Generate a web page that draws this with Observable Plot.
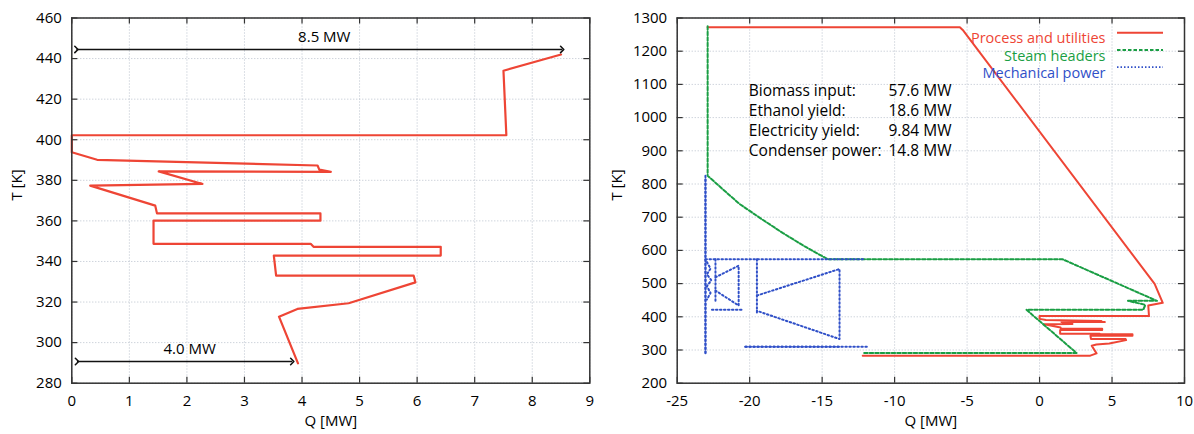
<!DOCTYPE html>
<html><head><meta charset="utf-8">
<script src="https://cdn.jsdelivr.net/npm/d3@7"></script>
<script src="https://cdn.jsdelivr.net/npm/@observablehq/plot@0.6"></script>
<style>
body{margin:0;background:#fff;}
#wrap{display:flex;width:1194px;height:434px;overflow:hidden;}
svg{font-family:"Open Sans",sans-serif;}
</style></head><body><div id="wrap"></div>
<script>
// ---------------- data ----------------
const leftQTicks = [0,1,2,3,4,5,6,7,8,9];
const leftTTicks = [280,300,320,340,360,380,400,420,440,460];
const rightQTicks = [-25,-20,-15,-10,-5,0,5,10];
const rightTTicks = [200,300,400,500,600,700,800,900,1000,1100,1200,1300];

// Process and utilities, low-temperature part (left panel; also part of right panel)
const processLowQ = [8.5,7.5,7.55,0,0,0.44,4.27,4.3,4.5,1.51,2.27,0.32,1.45,1.48,4.32,4.32,1.42,1.42,4.15,4.2,6.41,6.41,3.51,3.55,5.94,5.97,4.81,3.92,3.6,3.93];
const processLowT = [442,434,402.2,402.2,393.8,390.1,387.3,385.3,384.2,384.4,378.2,377.4,367.5,363.7,363.7,360.1,360.1,348.7,348.7,347.2,347.2,342.9,342.9,333,333,329.7,319.4,316.6,312.8,289.8];
// Process and utilities, high-temperature part and tail (right panel)
const processTopQ = [-22.9,-5.5,-5.3,7.94];
const processTopT = [1272,1272,1264,499];
const processTailQ = [3.5,-12.2];
const processTailT = [283,283];
// Steam headers
const steamQ = [-22.9,-22.9,-21.8,-20.7,-19.3,-17.7,-16.2,-14.6,1.6,8.1,6.1,7.3,7.15,-0.9,2.55,-12.2];
const steamT = [1275,825,782,740,698,652,612,573,573,448,448,436,421,421,291,291];
// Mechanical power (several dotted pieces, s = piece id)
const mechS = [0,0, 1,1, 2,2, 3,3,3,3,3,3,3, 4,4, 5,5,5,5, 6,6, 7,7, 8,8,8,8, 9,9, 10,10];
const mechQ = [-23.05,-23.05, -23.05,-12.15, -23.05,-23.05,
  -22.95,-22.7,-22.95,-22.65,-22.95,-22.7,-22.95,
  -22.36,-22.36, -22.36,-20.76,-20.76,-22.36, -22.6,-20.42,
  -19.5,-19.5, -19.5,-13.8,-13.8,-19.5, -20.3,-11.9, -20.3,-13.8];
const mechT = [825,288, 573,573, 292,818,
  565,545,528,510,492,472,452,
  573,443, 519,554,434,479, 421,421,
  573,413, 464,544,333,418, 310,310, 310,310];

const legendNames = ["Process and utilities","Steam headers","Mechanical power"];
const summaryLabels = ["Biomass input:","Ethanol yield:","Electricity yield:","Condenser power:"];
const summaryValues = ["57.6 MW","18.6 MW","9.84 MW","14.8 MW"];
const arrowLabels = ["8.5 MW","4.0 MW"];
const arrowFrom = [0.08,0.09];
const arrowTo = [8.52,3.83];
const arrowT = [444.5,290.7];

// ---------------- build ----------------
const zip = (qs, ts) => qs.map((q, i) => ({q, t: ts[i]}));
const processLow = zip(processLowQ, processLowT);
const processAll = [...zip(processTopQ, processTopT), ...processLow, ...zip(processTailQ, processTailT)];
const steam = zip(steamQ, steamT);
const mech = mechQ.map((q, i) => ({q, t: mechT[i], s: mechS[i]}));
const arrows = arrowLabels.map((label, i) => ({label, q1: arrowFrom[i], q2: arrowTo[i], t: arrowT[i]}));

const RED = "#ee4535", GREEN = "#1a9e44", BLUE = "#3050c8", INK = "#000";
const W = 597, H = 434, MT = 17.5, MB = 51.3;
const innerH = H - MT - MB;
const TICK = 6;

function gridMarks(qTicks, tTicks) {
  return [
    Plot.gridX(qTicks, {stroke: "#b9c0cc", strokeOpacity: 1, strokeDasharray: "1,2"}),
    Plot.gridY(tTicks, {stroke: "#b9c0cc", strokeOpacity: 1, strokeDasharray: "1,2"}),
  ];
}
function axisMarks(qTicks, tTicks, innerW, ylabDx) {
  return [
    Plot.tickX(qTicks, {x: d => d, insetTop: innerH - TICK, stroke: "#333", strokeWidth: 1.2}),
    Plot.tickX(qTicks, {x: d => d, insetBottom: innerH - TICK, stroke: "#333", strokeWidth: 1.2}),
    Plot.tickY(tTicks, {y: d => d, insetLeft: innerW - TICK, stroke: "#333", strokeWidth: 1.2}),
    Plot.tickY(tTicks, {y: d => d, insetRight: innerW - TICK, stroke: "#333", strokeWidth: 1.2}),
    Plot.frame({stroke: "#333", strokeWidth: 1.5}),
    Plot.axisX(qTicks, {tickSize: 0, tickPadding: 12, tickFormat: d => String(d), fontSize: 15, fill: INK, label: null}),
    Plot.axisY(tTicks, {tickSize: 0, tickPadding: 10, tickFormat: d => String(d), fontSize: 15, fill: INK, label: null}),
    Plot.text(["Q [MW]"], {text: d => d, frameAnchor: "bottom", dy: 43, fontSize: 15, fill: INK}),
    Plot.text(["T [K]"], {text: d => d, frameAnchor: "left", dx: ylabDx, rotate: -90, fontSize: 15, fill: INK})
  ];
}

// Left panel
const leftML = 71.3, leftMR = 7.7;
const left = Plot.plot({
  width: W, height: H, marginTop: MT, marginBottom: MB, marginLeft: leftML, marginRight: leftMR,
  style: {fontFamily: "Open Sans", fontSize: "15px", background: "white", overflow: "visible"},
  x: {domain: [0, 9]},
  y: {domain: [280, 460]},
  marks: [
    ...gridMarks(leftQTicks, leftTTicks),
    Plot.line(processLow, {x: "q", y: "t", stroke: RED, strokeWidth: 2.2}),
    Plot.link(arrows, {x1: "q1", x2: "q2", y1: "t", y2: "t", stroke: "#111", strokeWidth: 1.6, markerStart: "arrow", markerEnd: "arrow"}),
    Plot.text(arrows, {x: d => (d.q1 + d.q2) / 2, y: "t", text: "label", dy: -12, dx: 5, fontSize: 15, fill: INK}),
    ...axisMarks(leftQTicks, leftTTicks, W - leftML - leftMR, -(leftML - 17))
  ]
});

// Right panel
const rightML = 79.7, rightMR = 10;
const right = Plot.plot({
  width: W, height: H, marginTop: MT, marginBottom: MB, marginLeft: rightML, marginRight: rightMR,
  style: {fontFamily: "Open Sans", fontSize: "15px", background: "white", overflow: "visible"},
  x: {domain: [-25, 10]},
  y: {domain: [200, 1300]},
  marks: [
    ...gridMarks(rightQTicks, rightTTicks),
    Plot.line(processAll, {x: "q", y: "t", stroke: RED, strokeWidth: 2}),
    Plot.line(steam, {x: "q", y: "t", stroke: GREEN, strokeWidth: 2, strokeDasharray: "3.5,2"}),
    Plot.line(mech, {x: "q", y: "t", z: "s", stroke: BLUE, strokeWidth: 2, strokeDasharray: "1.5,2.5"}),
    Plot.text([summaryLabels.join("\n")], {text: d => d, frameAnchor: "top-left", textAnchor: "start", lineAnchor: "top", dx: 71.6, dy: 64.4, lineHeight: 1.28, fontSize: 15.5, fill: INK}),
    Plot.text([summaryValues.join("\n")], {text: d => d, frameAnchor: "top-left", textAnchor: "start", lineAnchor: "top", dx: 211.3, dy: 64.4, lineHeight: 1.28, fontSize: 15.5, fill: INK}),
    ...[RED, GREEN, BLUE].map((c, i) => Plot.text([legendNames[i]], {text: d => d, frameAnchor: "top-right", textAnchor: "end", dx: -79, dy: 15.2 + 17.2 * i, fontSize: 14.5, fill: c})),
    ...axisMarks(rightQTicks, rightTTicks, W - rightML - rightMR, -(rightML - 20))
  ]
});

// legend samples
const styles = [{c: RED, d: null, w: 2}, {c: GREEN, d: "3.5,2", w: 2}, {c: BLUE, d: "1.5,2", w: 1.6}];
const g = d3.select(right).append("g");
styles.forEach((s, i) => {
  const yy = MT + 15.2 + 17.2 * i;
  g.append("line").attr("x1", W - rightMR - 67).attr("x2", W - rightMR - 21)
    .attr("y1", yy).attr("y2", yy).attr("stroke", s.c).attr("stroke-width", s.w)
    .attr("stroke-dasharray", s.d);
});

document.getElementById("wrap").append(left, right);
</script></body></html>
